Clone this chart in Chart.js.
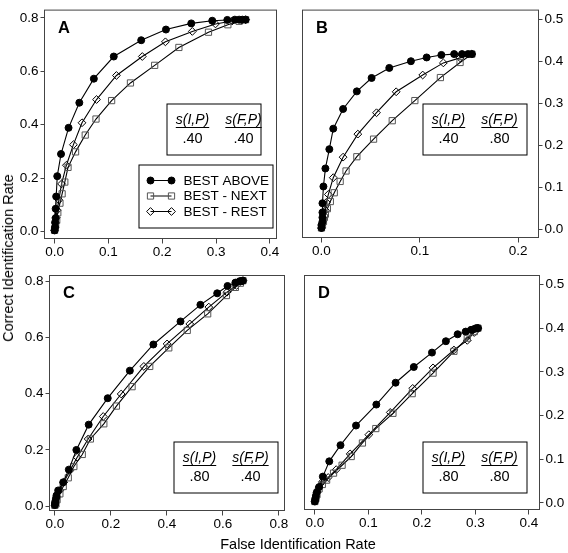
<!DOCTYPE html>
<html>
<head>
<meta charset="utf-8">
<script src="https://cdn.jsdelivr.net/npm/chart.js@4.4.1/dist/chart.umd.min.js"></script>
<style>
  html, body { margin: 0; padding: 0; background: #fff; }
  #wrap { position: relative; width: 568px; height: 553px; font-family: "Liberation Sans", Arial, sans-serif; color: #000; }
  #wrap canvas { position: absolute; left: 0; top: 0; }
  .ytitle { position: absolute; left: 8px; top: 258px; transform: translate(-50%, -50%) rotate(-90deg); white-space: nowrap; font-size: 14.5px; }
  .xtitle { position: absolute; left: 298px; top: 544px; transform: translate(-50%, -50%); white-space: nowrap; font-size: 14.5px; }
</style>
</head>
<body>
<div id="wrap">
  <canvas id="panelA" width="568" height="553"></canvas>
  <canvas id="panelB" width="568" height="553"></canvas>
  <canvas id="panelC" width="568" height="553"></canvas>
  <canvas id="panelD" width="568" height="553"></canvas>
  <div class="ytitle">Correct Identification Rate</div>
  <div class="xtitle">False Identification Rate</div>
</div>
<script>
// series names (legend)
const seriesNames = ['BEST ABOVE', 'BEST - NEXT', 'BEST - REST'];

// [false id rate, correct id rate]
const aAbove = [[0.000,0.004],[0.001,0.016],[0.001,0.034],[0.002,0.050],[0.002,0.085],[0.003,0.131],[0.005,0.207],[0.012,0.290],[0.026,0.388],[0.046,0.482],[0.073,0.572],[0.110,0.655],[0.161,0.716],[0.207,0.756],[0.254,0.779],[0.293,0.789],[0.321,0.792],[0.335,0.793],[0.343,0.793],[0.349,0.793],[0.355,0.793]];
const aNext  = [[0.000,0.004],[0.001,0.012],[0.002,0.024],[0.004,0.042],[0.006,0.070],[0.010,0.106],[0.014,0.141],[0.019,0.185],[0.025,0.240],[0.039,0.298],[0.057,0.361],[0.077,0.421],[0.106,0.490],[0.141,0.556],[0.186,0.622],[0.231,0.689],[0.286,0.746],[0.322,0.774],[0.343,0.787],[0.355,0.793]];
const aRest  = [[0.000,0.005],[0.001,0.016],[0.002,0.032],[0.003,0.052],[0.005,0.080],[0.008,0.118],[0.013,0.178],[0.022,0.248],[0.035,0.325],[0.051,0.407],[0.078,0.494],[0.115,0.584],[0.163,0.655],[0.206,0.710],[0.256,0.749],[0.299,0.777],[0.330,0.788],[0.347,0.792],[0.355,0.793]];

const bAbove = [[0.000,0.003],[0.000,0.010],[0.001,0.018],[0.001,0.028],[0.001,0.040],[0.001,0.062],[0.002,0.102],[0.004,0.145],[0.008,0.191],[0.012,0.240],[0.022,0.287],[0.036,0.329],[0.051,0.361],[0.069,0.385],[0.091,0.401],[0.107,0.410],[0.122,0.416],[0.135,0.418],[0.143,0.418],[0.149,0.418],[0.153,0.418]];
const bNext  = [[0.000,0.003],[0.001,0.010],[0.002,0.020],[0.003,0.028],[0.004,0.036],[0.006,0.049],[0.009,0.066],[0.013,0.087],[0.019,0.114],[0.025,0.139],[0.036,0.173],[0.053,0.215],[0.072,0.259],[0.095,0.307],[0.121,0.362],[0.141,0.398],[0.153,0.418]];
const bRest  = [[0.000,0.003],[0.001,0.012],[0.002,0.025],[0.004,0.045],[0.005,0.064],[0.007,0.083],[0.012,0.123],[0.022,0.172],[0.037,0.227],[0.056,0.278],[0.076,0.328],[0.103,0.368],[0.124,0.397],[0.141,0.409],[0.153,0.418]];

const cAbove = [[0.000,0.004],[0.001,0.010],[0.002,0.018],[0.004,0.027],[0.006,0.038],[0.012,0.056],[0.030,0.085],[0.050,0.130],[0.077,0.200],[0.121,0.290],[0.189,0.384],[0.268,0.482],[0.352,0.575],[0.449,0.657],[0.520,0.716],[0.580,0.757],[0.617,0.783],[0.645,0.795],[0.660,0.800],[0.668,0.801],[0.672,0.802]];
const cNext  = [[0.000,0.003],[0.004,0.008],[0.008,0.023],[0.018,0.044],[0.030,0.070],[0.048,0.101],[0.068,0.141],[0.098,0.184],[0.127,0.239],[0.175,0.293],[0.220,0.356],[0.276,0.425],[0.339,0.497],[0.407,0.563],[0.473,0.625],[0.546,0.684],[0.613,0.749],[0.645,0.778],[0.663,0.793],[0.672,0.802]];
const cRest  = [[0.000,0.004],[0.002,0.014],[0.008,0.032],[0.018,0.056],[0.032,0.085],[0.054,0.127],[0.080,0.174],[0.119,0.239],[0.173,0.319],[0.237,0.399],[0.318,0.497],[0.401,0.577],[0.482,0.648],[0.550,0.708],[0.615,0.761],[0.649,0.785],[0.672,0.802]];

const dAbove = [[0.000,0.003],[0.001,0.009],[0.002,0.016],[0.004,0.025],[0.008,0.036],[0.015,0.060],[0.027,0.095],[0.048,0.132],[0.077,0.177],[0.115,0.225],[0.151,0.275],[0.185,0.311],[0.219,0.344],[0.245,0.370],[0.267,0.386],[0.282,0.392],[0.292,0.396],[0.298,0.398],[0.302,0.400],[0.305,0.400]];
const dNext  = [[0.000,0.003],[0.002,0.010],[0.004,0.020],[0.008,0.032],[0.014,0.042],[0.022,0.052],[0.035,0.068],[0.051,0.086],[0.068,0.106],[0.089,0.137],[0.114,0.170],[0.146,0.205],[0.182,0.250],[0.221,0.297],[0.260,0.347],[0.285,0.377],[0.298,0.392],[0.305,0.400]];
const dRest  = [[0.000,0.004],[0.002,0.012],[0.004,0.024],[0.008,0.036],[0.014,0.048],[0.025,0.058],[0.040,0.076],[0.066,0.112],[0.101,0.156],[0.141,0.207],[0.183,0.262],[0.221,0.309],[0.260,0.350],[0.285,0.372],[0.298,0.390],[0.305,0.400]];

// similarity parameters shown in each panel
const sIP = ['.40', '.40', '.80', '.80'];
const sFP = ['.40', '.80', '.40', '.80'];

// tick labels
const xTicksA = [0, 0.1, 0.2, 0.3, 0.4];
const xTicksB = [0, 0.1, 0.2];
const xTicksC = [0, 0.2, 0.4, 0.6, 0.8];
const xTicksD = [0, 0.1, 0.2, 0.3, 0.4];
const yTicksAC = [0, 0.2, 0.4, 0.6, 0.8];
const yTicksBD = [0, 0.1, 0.2, 0.3, 0.4, 0.5];

const FONT = '"Liberation Sans", Arial, sans-serif';
const W = 568, H = 553;

// look of each series
const looks = [
    { pointStyle: 'circle', pointRadius: 3.5, pointBackgroundColor: '#000', pointBorderColor: '#000' },
    { pointStyle: 'rect', pointRadius: 4.4, pointBackgroundColor: 'rgba(0,0,0,0)', pointBorderColor: '#555' },
    { pointStyle: 'rectRot', pointRadius: 3.9, pointBackgroundColor: 'rgba(0,0,0,0)', pointBorderColor: '#000' }
];

function drawMarker(ctx, i, x, y) {
    const lk = looks[i];
    ctx.save();
    ctx.lineWidth = 1;
    ctx.strokeStyle = lk.pointBorderColor;
    ctx.fillStyle = lk.pointBackgroundColor;
    ctx.beginPath();
    if (i === 0) {
        ctx.arc(x, y, lk.pointRadius, 0, Math.PI * 2);
        ctx.fill();
    } else if (i === 1) {
        const s = lk.pointRadius * Math.SQRT1_2;
        ctx.rect(x - s, y - s, 2 * s, 2 * s);
    } else {
        const r = lk.pointRadius;
        ctx.moveTo(x, y - r); ctx.lineTo(x + r, y); ctx.lineTo(x, y + r); ctx.lineTo(x - r, y); ctx.closePath();
    }
    ctx.stroke();
    ctx.restore();
}

// frame, panel letter, parameter box and legend
const panelDeco = {
    id: 'panelDeco',
    afterDraw(chart, args, o) {
        const { ctx, chartArea: a } = chart;
        ctx.save();
        ctx.strokeStyle = '#444';
        ctx.lineWidth = 1;
        ctx.strokeRect(a.left, a.top, a.right - a.left, a.bottom - a.top);

        ctx.fillStyle = '#000';
        ctx.font = 'bold 16.5px ' + FONT;
        ctx.textBaseline = 'alphabetic';
        ctx.textAlign = 'left';
        ctx.fillText(o.letter, a.left + 13.5, a.top + 22.5);

        // parameter box
        const b = o.pbox;
        ctx.fillStyle = '#fff';
        ctx.fillRect(b[0], b[1], b[2], b[3]);
        ctx.strokeStyle = '#000';
        ctx.strokeRect(b[0] + 0.5, b[1] + 0.5, b[2], b[3]);
        ctx.fillStyle = '#000';
        ctx.textAlign = 'center';
        ctx.textBaseline = 'middle';
        const cols = [b[0] + 26, b[0] + 77];
        const heads = ['s(I,P)', 's(F,P)'];
        const vals = [sIP[o.idx], sFP[o.idx]];
        for (let k = 0; k < 2; k++) {
            ctx.font = 'italic 14px ' + FONT;
            ctx.fillText(heads[k], cols[k], b[1] + 17);
            const w = ctx.measureText(heads[k]).width;
            ctx.fillRect(cols[k] - w / 2, b[1] + 23.5, w, 1);
            ctx.font = '14.5px ' + FONT;
            ctx.fillText(vals[k], cols[k], b[1] + 35);
        }

        if (o.legend) {
            const L = o.legend;
            ctx.fillStyle = '#fff';
            ctx.fillRect(L[0], L[1], L[2], L[3]);
            ctx.strokeStyle = '#000';
            ctx.strokeRect(L[0] + 0.5, L[1] + 0.5, L[2], L[3]);
            ctx.textAlign = 'left';
            ctx.font = '13.5px ' + FONT;
            seriesNames.forEach((name, i) => {
                const y = L[1] + 16 + i * 15.5;
                ctx.strokeStyle = '#000';
                ctx.beginPath();
                ctx.moveTo(L[0] + 12, y); ctx.lineTo(L[0] + 33, y);
                ctx.stroke();
                drawMarker(ctx, i, L[0] + 12, y);
                drawMarker(ctx, i, L[0] + 33, y);
                ctx.fillStyle = '#000';
                ctx.fillText(name, L[0] + 45, y + 0.5);
            });
        }
        ctx.restore();
    }
};

function makePanel(id, idx, letter, series, box, xr, yr, xTicks, yTicks, yRight, pbox, legend) {
    const yW = yRight ? 29 : 44;
    const xH = 22;
    const pad = {
        left: yRight ? box.l : box.l - yW,
        right: yRight ? W - box.r - yW : W - box.r,
        top: box.t,
        bottom: H - box.b - xH
    };
    const tickFont = { family: FONT, size: 13.5 };
    new Chart(document.getElementById(id), {
        type: 'line',
        data: {
            datasets: series.map((s, i) => Object.assign({
                data: s.map(p => ({ x: p[0], y: p[1] })),
                borderColor: '#000',
                borderWidth: 1.1,
                pointBorderWidth: 1,
                tension: 0,
                fill: false
            }, looks[i]))
        },
        options: {
            responsive: false,
            animation: false,
            events: [],
            layout: { padding: pad, autoPadding: false },
            plugins: { legend: { display: false }, tooltip: { enabled: false }, panelDeco: { letter, idx, pbox, legend } },
            scales: {
                x: {
                    type: 'linear', min: xr[0], max: xr[1],
                    afterBuildTicks: s => { s.ticks = xTicks.map(v => ({ value: v })); },
                    afterFit: s => { s.height = xH; },
                    border: { display: false },
                    grid: { drawOnChartArea: false, drawTicks: true, tickLength: 5, color: '#444' },
                    ticks: { color: '#000', font: tickFont, padding: 1, maxRotation: 0, autoSkip: false, callback: v => v.toFixed(1) }
                },
                y: {
                    type: 'linear', min: yr[0], max: yr[1], position: yRight ? 'right' : 'left',
                    afterBuildTicks: s => { s.ticks = yTicks.map(v => ({ value: v })); },
                    afterFit: s => { s.width = yW; },
                    border: { display: false },
                    grid: { drawOnChartArea: false, drawTicks: true, tickLength: 4, color: '#444' },
                    ticks: { color: '#000', font: tickFont, padding: 2, autoSkip: false, callback: v => v.toFixed(1) }
                }
            }
        },
        plugins: [panelDeco]
    });
}

makePanel('panelA', 0, 'A', [aAbove, aNext, aRest], { l: 44.5, t: 1.5, r: 276.5, b: 238.5 },
    [-0.0187, 0.4124], [-0.0263, 0.8288], xTicksA, yTicksAC, false, [166.5, 103.5, 94, 51], [138.5, 164.5, 134, 63]);
makePanel('panelB', 1, 'B', [bAbove, bNext, bRest], { l: 302.5, t: 1.5, r: 538.5, b: 237.5 },
    [-0.0193, 0.2208], [-0.0198, 0.5230], xTicksB, yTicksBD, true, [422.5, 103.5, 104, 51], null);
makePanel('panelC', 2, 'C', [cAbove, cNext, cRest], { l: 49.5, t: 275.5, r: 284.5, b: 510.5 },
    [-0.019, 0.8204], [-0.0153, 0.8203], xTicksC, yTicksAC, false, [173.5, 441.5, 104, 51], null);
makePanel('panelD', 3, 'D', [dAbove, dNext, dRest], { l: 304.5, t: 275.5, r: 539.5, b: 509.5 },
    [-0.0193, 0.42], [-0.0153, 0.5205], xTicksD, yTicksBD, true, [422.5, 441.5, 104, 51], null);
</script>
</body>
</html>
